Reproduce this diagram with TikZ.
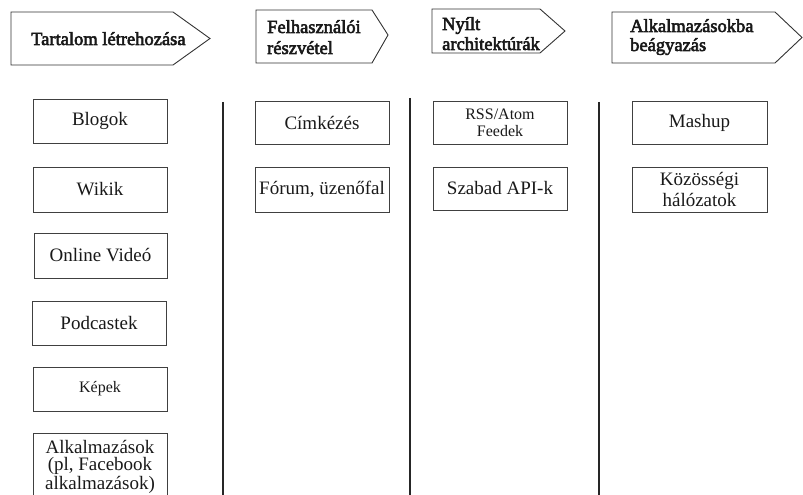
\documentclass[tikz,border=0pt]{standalone}
\usepackage{fontspec}
\setmainfont{Liberation Serif}
\newfontfamily\hdrfont[FakeBold=3]{Liberation Serif}
\begin{document}
\begin{tikzpicture}[x=1bp,y=-1bp,
  box/.style={draw=black!75, line width=0.9bp, rectangle, minimum width=134bp,
    minimum height=44bp, inner sep=0pt, align=center, text=black!90,
    font=\fontsize{19bp}{21bp}\selectfont},
  hdr/.style={draw=black!80, line width=0.9bp},
  hdrtext/.style={anchor=base west, inner sep=0pt, align=left, text=black!90},
  sep/.style={draw=black!85, line width=1.1bp}]
\useasboundingbox (0,0) rectangle (803,495);

% header arrows
\draw[hdr] (11,12) -- (173,12) -- (210,38.5) -- (173,65) -- (11,65) -- cycle;
\node[hdrtext, font=\hdrfont\fontsize{18.5bp}{21bp}\selectfont] (h1) at (31,45) {Tartalom létrehozása};
\draw[hdr] (256,10) -- (372,10) -- (388,35) -- (372,63) -- (256,63) -- cycle;
\node[hdrtext, font=\hdrfont\fontsize{18.5bp}{21bp}\selectfont] (h2) at (267,54) {Felhasználói\\részvétel};
\draw[hdr] (432,9) -- (540,9) -- (565,31) -- (540,53) -- (432,53) -- cycle;
\node[hdrtext, font=\hdrfont\fontsize{18.5bp}{20bp}\selectfont] (h3) at (442,50) {Nyílt\\architektúrák};
\draw[hdr] (612,12) -- (775,12) -- (802,37.5) -- (775,63) -- (612,63) -- cycle;
\node[hdrtext, font=\hdrfont\fontsize{18.5bp}{19bp}\selectfont] (h4) at (630,51) {Alkalmazásokba\\beágyazás};

% separators
\coordinate (v1t) at (223,102); \coordinate (v1b) at (223,495);
\coordinate (v2t) at (410,98);  \coordinate (v2b) at (410,495);
\coordinate (v3t) at (599,102); \coordinate (v3b) at (599,495);
\draw[sep] (v1t) -- (v1b);
\draw[sep] (v2t) -- (v2b);
\draw[sep] (v3t) -- (v3b);

% column 1
\node[box] (blog) at (100,121) {Blogok};
\node[box, minimum height=45bp] (wiki) at (100,189.5) {Wikik};
\node[box, minimum width=133bp, minimum height=45bp] (video) at (100.5,255.5) {Online Videó};
\node[box] (pod) at (99,323) {Podcastek};
\node[box, font=\fontsize{16bp}{18bp}\selectfont] (kep) at (100,389) {Képek};
\node[box, minimum height=68bp, font=\fontsize{19bp}{17bp}\selectfont] (app) at (100,467) {Alkalmazások\\(pl, Facebook\\alkalmazások)};

% column 2
\node[box, minimum height=43bp] (cimke) at (322,122.5) {Címkézés};
\node[box, minimum height=45bp] (forum) at (322,189.5) {Fórum, üzenőfal};

% column 3
\node[box, minimum height=43bp, font=\fontsize{16bp}{17bp}\selectfont] (rss) at (500,122.5) {RSS/Atom\\Feedek};
\node[box, minimum height=43bp] (api) at (500,188.5) {Szabad API-k};

% column 4
\node[box, minimum width=135bp, minimum height=43bp] (mash) at (699.5,122.5) {Mashup};
\node[box, minimum width=135bp, minimum height=45bp] (kozos) at (699.5,189.5) {Közösségi\\hálózatok};
\end{tikzpicture}
\end{document}
